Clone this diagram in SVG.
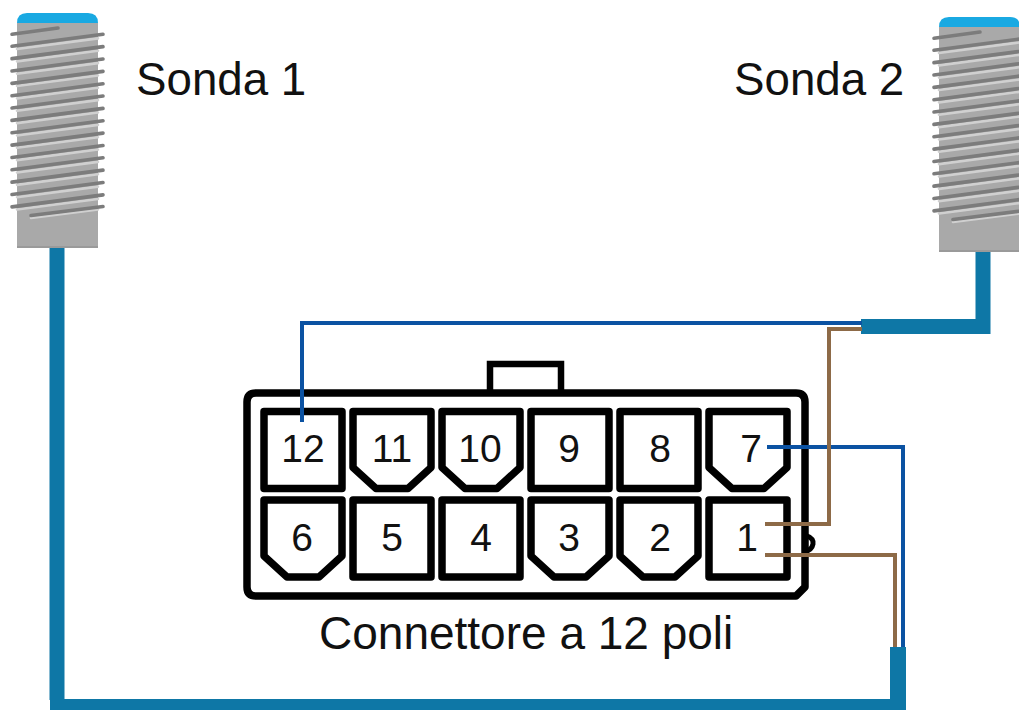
<svg xmlns="http://www.w3.org/2000/svg" xmlns:xlink="http://www.w3.org/1999/xlink" width="1019" height="710" viewBox="0 0 1019 710">
<style>
text{font-family:"Liberation Sans",Arial,sans-serif;fill:#111}
.lbl{font-size:45.700px}
.big{font-size:46px}
.num{font-size:39px;text-anchor:middle}
.cell,.shell{fill:#fff;stroke:#000;stroke-width:7.500;stroke-linejoin:round}
.dk{stroke:#7c7c7c;stroke-width:3.600;fill:none;stroke-linecap:round}
.lt{stroke:#d0d0d0;stroke-width:2.600;fill:none;stroke-linecap:round}
.cable{fill:none;stroke:#0e77a6}
.blue{fill:none;stroke:#0b52a2;stroke-width:4}
.brown{fill:none;stroke:#8d6a47;stroke-width:4}
</style>
<defs>
<g id="th">
<path class="lt" d="M17 49L98 38.400"/>
<path class="dk" d="M12 46.300L103 34.300"/>
</g>
<g id="probe">
<path d="M17 23Q17 13 27 13H88Q98 13 98 23V30H17Z" fill="#19a9e2"/>
<rect x="17" y="23" width="81" height="225" fill="#a9a9a9"/>
<rect x="17" y="246" width="81" height="2" fill="#9a9a9a"/>
<path class="dk" d="M12 34.300L58 28"/>
<use href="#th" xlink:href="#th"/>
<use href="#th" xlink:href="#th" y="12.350"/>
<use href="#th" xlink:href="#th" y="24.700"/>
<use href="#th" xlink:href="#th" y="37.050"/>
<use href="#th" xlink:href="#th" y="49.400"/>
<use href="#th" xlink:href="#th" y="61.750"/>
<use href="#th" xlink:href="#th" y="74.100"/>
<use href="#th" xlink:href="#th" y="86.450"/>
<use href="#th" xlink:href="#th" y="98.800"/>
<use href="#th" xlink:href="#th" y="111.150"/>
<use href="#th" xlink:href="#th" y="123.500"/>
<use href="#th" xlink:href="#th" y="135.850"/>
<use href="#th" xlink:href="#th" y="148.200"/>
<use href="#th" xlink:href="#th" y="160.550"/>
<path class="lt" d="M31 218L98 209.500"/>
<path class="dk" d="M31 215.500L103 206.500"/>
</g>
<path id="sq" class="cell" d="M0 0H78V77H0Z"/>
<path id="ch" class="cell" d="M0 0H78V56L55 77H23L0 56Z"/>
</defs>

<g id="connectors">
<path class="cable" stroke-width="15" d="M57 248V700"/>
<path class="cable" stroke-width="11" d="M50 704.500H906"/>
<path class="cable" stroke-width="16" d="M898 710V647"/>
<path class="cable" stroke-width="15" d="M983 252V326.500H861"/>
</g>

<g id="sonda1"><use href="#probe" xlink:href="#probe"/><text class="lbl" x="136" y="95">Sonda 1</text></g>
<g id="sonda2"><use href="#probe" xlink:href="#probe" x="922" y="4"/><text class="lbl" x="734" y="95">Sonda 2</text></g>

<g id="connettore">
<path d="M490 391V364H561V391" fill="#fff" stroke="#000" stroke-width="6.500"/>
<path class="shell" d="M256 393H796Q805 393 805 402V587L796 596H256Q247 596 247 587V402Q247 393 256 393Z"/>
<path d="M805 535Q814 538 813 544Q812 550 804 552" fill="none" stroke="#000" stroke-width="5"/>
<g id="p12"><use href="#sq" xlink:href="#sq" x="264" y="411.500"/><text class="num" x="303" y="462">12</text></g>
<g id="p11"><use href="#ch" xlink:href="#ch" x="353" y="411.500"/><text class="num" x="392" y="462">11</text></g>
<g id="p10"><use href="#ch" xlink:href="#ch" x="442" y="411.500"/><text class="num" x="480" y="462">10</text></g>
<g id="p9"><use href="#sq" xlink:href="#sq" x="531" y="411.500"/><text class="num" x="569" y="462">9</text></g>
<g id="p8"><use href="#sq" xlink:href="#sq" x="620" y="411.500"/><text class="num" x="660" y="462">8</text></g>
<g id="p7"><use href="#ch" xlink:href="#ch" x="709" y="411.500"/><text class="num" x="751" y="462">7</text></g>
<g id="p6"><use href="#ch" xlink:href="#ch" x="264" y="500"/><text class="num" x="302" y="551">6</text></g>
<g id="p5"><use href="#sq" xlink:href="#sq" x="353" y="500"/><text class="num" x="392" y="551">5</text></g>
<g id="p4"><use href="#sq" xlink:href="#sq" x="442" y="500"/><text class="num" x="481" y="551">4</text></g>
<g id="p3"><use href="#ch" xlink:href="#ch" x="531" y="500"/><text class="num" x="569" y="551">3</text></g>
<g id="p2"><use href="#ch" xlink:href="#ch" x="620" y="500"/><text class="num" x="660" y="551">2</text></g>
<g id="p1"><use href="#sq" xlink:href="#sq" x="709" y="500"/><text class="num" x="747" y="551">1</text></g>
<text class="big" x="319" y="649">Connettore a 12 poli</text>
</g>

<g id="wires">
<path class="blue" d="M862 323H302V422"/>
<path class="blue" d="M767 447H903V647"/>
<path class="brown" d="M765 524H829V329H862"/>
<path class="brown" d="M765 555H895V647"/>
</g>
</svg>
